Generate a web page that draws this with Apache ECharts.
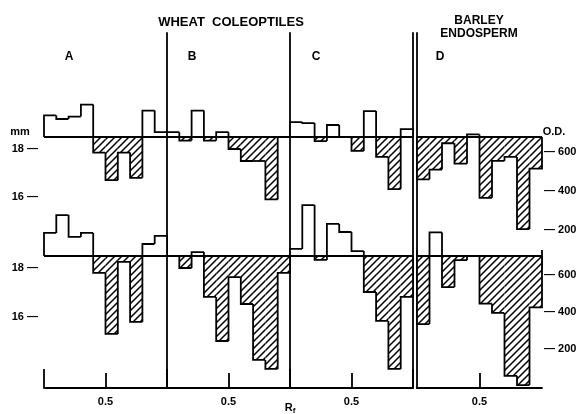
<!DOCTYPE html>
<html>
<head>
<meta charset="utf-8">
<script src="https://cdn.jsdelivr.net/npm/echarts@6/dist/echarts.min.js"></script>
<style>html,body{margin:0;padding:0;background:#fff}#c{width:586px;height:414px}</style>
</head>
<body>
<div id="c"></div>
<script>
// ---- data ----
const rfBinStart = [0, 0.1, 0.2, 0.3, 0.4, 0.5, 0.6, 0.7, 0.8, 0.9];
const rfBinWidth = 0.1;
const panelNames = ['A', 'B', 'C', 'D'];
// wheat coleoptile section length, mm (upper row)
const aTop = [19.4, 19.25, 19.35, 19.85, 17.85, 16.7, 17.85, 16.8, 19.6, 18.7];
const bTop = [18.7, 18.35, 19.6, 18.35, 18.7, 18.0, 17.5, 17.5, 15.9, 18.5];
const cTop = [19.12, 19.08, 18.33, 19.0, 18.5, 17.92, 19.58, 17.67, 16.33, 18.83];
// barley endosperm, O.D. (upper row)
const dTop = [460, 510, 645, 540, 690, 365, 555, 575, 205, 515];
// lower row
const aBot = [19.44, 20.17, 19.28, 19.44, 17.81, 15.32, 18.26, 15.81, 18.99, 19.32];
const bBot = [18.5, 18.01, 18.66, 16.83, 15.03, 17.64, 16.54, 14.26, 13.89, 17.81];
const cBot = [18.79, 20.58, 18.34, 19.81, 19.48, 18.7, 17.03, 15.85, 13.89, 16.83];
const dBot = [335, 830, 535, 680, 703, 445, 395, 55, 5, 425];
const mmBaseline = 18.5;
const odBaselineTop = 677;
const odBaselineBot = 703;
const mmTicks = [18, 16];
const odTicks = [600, 400, 200];
const xTickLabel = [0.5];

// ---- layout ----
const colLeft = [44, 167, 290, 417];
const colRight = [167, 290, 413, 542];
const gridTop = 33, gridBottomY = 388;
// axis calibration: [value, pixel y] pairs
const calTopMM = [[18, 149], [16, 197]];
const calBotMM = [[18.5, 256], [16.5, 305]];
const calTopOD = [[600, 152], [200, 230]];
const calBotOD = [[600, 275], [200, 349]];
function range(cal) {
  const [[v1, y1], [v2, y2]] = cal;
  const k = (y2 - y1) / (v2 - v1);
  return { min: v1 + (gridBottomY - y1) / k, max: v1 + (gridTop - y1) / k };
}

const FONT = "'Liberation Sans', Arial, sans-serif";

// hatch pattern
const pc = document.createElement('canvas');
pc.width = 7; pc.height = 7;
const px = pc.getContext('2d');
px.fillStyle = '#fff'; px.fillRect(0, 0, 7, 7);
px.strokeStyle = '#000'; px.lineWidth = 1.5; px.lineCap = 'square';
px.beginPath();
px.moveTo(0, 7); px.lineTo(7, 0);
px.moveTo(-1, 1); px.lineTo(1, -1);
px.moveTo(6, 8); px.lineTo(8, 6);
px.stroke();
const hatch = { image: pc, repeat: 'repeat' };

function makeRender(base) {
  return function (params, api) {
    const x0 = api.value(0), x1 = api.value(1), v = api.value(2), p = api.value(3), last = api.value(4);
    const a = api.coord([x0, base]);
    const b = api.coord([x1, v]);
    const pp = api.coord([x0, p]);
    const ch = [];
    if (v !== base) {
      ch.push({
        type: 'rect',
        shape: { x: a[0], y: Math.min(a[1], b[1]), width: b[0] - a[0], height: Math.abs(b[1] - a[1]) },
        style: { fill: v < base ? hatch : '#fff' }
      });
    }
    const pts = [[a[0], pp[1]], [a[0], b[1]], [b[0], b[1]]];
    if (last) pts.push([b[0], a[1]]);
    ch.push({ type: 'polyline', shape: { points: pts }, style: { stroke: '#000', lineWidth: 1.8, fill: null, lineJoin: 'miter' } });
    return { type: 'group', children: ch };
  };
}

function binData(vals, base) {
  return vals.map((v, i) => [rfBinStart[i], rfBinStart[i] + rfBinWidth, v, i === 0 ? base : vals[i - 1], i === vals.length - 1 ? 1 : 0]);
}

const grids = [], xAxes = [], yAxes = [], series = [];
const rows = [
  { vals: [aTop, bTop, cTop, dTop], calMM: calTopMM, calOD: calTopOD, odBase: odBaselineTop },
  { vals: [aBot, bBot, cBot, dBot], calMM: calBotMM, calOD: calBotOD, odBase: odBaselineBot }
];
const labelStyle = { color: '#000', fontFamily: FONT, fontWeight: 'bold', fontSize: 11 };

for (let c = 0; c < 4; c++) {
  grids.push({ left: colLeft[c], width: colRight[c] - colLeft[c], top: gridTop, height: gridBottomY - gridTop, containLabel: false, outerBoundsMode: 'none' });
  const xi = xAxes.length;
  xAxes.push({
    gridIndex: c, type: 'value', min: 0, max: 1, position: 'bottom',
    axisLine: { show: true, lineStyle: { color: '#000', width: 1.8 } },
    axisTick: { show: true, inside: true, length: 15, customValues: xTickLabel, lineStyle: { color: '#000', width: 1.8 } },
    axisLabel: Object.assign({ show: true, customValues: xTickLabel, margin: 8, formatter: v => v.toFixed(1) }, labelStyle),
    splitLine: { show: false }
  });
  xAxes.push({
    gridIndex: c, type: 'value', min: 0, max: 1, position: 'bottom',
    axisLine: { show: false },
    axisTick: { show: true, inside: true, length: 19, customValues: [0, 1], lineStyle: { color: '#000', width: 1.8 } },
    axisLabel: { show: false }, splitLine: { show: false }
  });
  // divider axis
  yAxes.push({
    gridIndex: c, type: 'value', min: 0, max: 1, position: 'left',
    axisLine: { show: c > 0, onZero: false, lineStyle: { color: '#000', width: 1.8 } },
    axisTick: { show: false }, axisLabel: { show: false }, splitLine: { show: false }
  });
  if (c === 2) {
    yAxes.push({
      gridIndex: c, type: 'value', min: 0, max: 1, position: 'right',
      axisLine: { show: true, onZero: false, lineStyle: { color: '#000', width: 1.8 } },
      axisTick: { show: false }, axisLabel: { show: false }, splitLine: { show: false }
    });
  }
  rows.forEach((row) => {
    const isOD = c === 3;
    const r = range(isOD ? row.calOD : row.calMM);
    const base = isOD ? row.odBase : mmBaseline;
    const yi = yAxes.length;
    const ax = {
      gridIndex: c, type: 'value', min: r.min, max: r.max,
      position: isOD ? 'right' : 'left',
      axisLine: { show: false }, axisTick: { show: false }, splitLine: { show: false },
      axisLabel: { show: false }
    };
    if (c === 0) {
      ax.axisLabel = Object.assign({ show: true, customValues: mmTicks, margin: 6, formatter: v => v + ' \u2014' }, labelStyle);
    }
    if (isOD) {
      ax.axisLabel = Object.assign({ show: true, customValues: odTicks, margin: 2, formatter: v => '\u2014 ' + v }, labelStyle);
    }
    yAxes.push(ax);
    series.push({
      type: 'custom', xAxisIndex: xi, yAxisIndex: yi,
      renderItem: makeRender(base),
      data: binData(row.vals[c], base),
      encode: { x: [0, 1], y: [2, 3] },
      silent: true, animation: false,
      markLine: {
        silent: true, symbol: 'none', animation: false,
        label: { show: false },
        lineStyle: { color: '#000', width: 1.8, type: 'solid' },
        data: [{ yAxis: base }]
      }
    });
  });
}

const txt = (x, y, text, size, align) => ({
  type: 'text', x: x, y: y,
  style: { text: text, fill: '#000', font: 'bold ' + size + 'px ' + FONT, align: align || 'center', verticalAlign: 'middle' }
});
const graphic = [
  txt(231, 22, 'WHEAT  COLEOPTILES', 13),
  txt(479, 21, 'BARLEY', 12),
  txt(479, 34, 'ENDOSPERM', 12),
  txt(20, 132, 'mm', 11),
  txt(554, 132, 'O.D.', 11)
];
panelNames.forEach((n, i) => graphic.push(txt([69, 192, 316, 440][i], 57, n, 12)));
graphic.push({
  type: 'text', x: 290, y: 408,
  style: {
    text: '{r|R}{f|f}', align: 'center', verticalAlign: 'middle',
    rich: { r: { fontFamily: FONT, fontWeight: 'bold', fontSize: 11, fill: '#000' },
            f: { fontFamily: FONT, fontWeight: 'bold', fontSize: 8, fill: '#000', padding: [5, 0, 0, 0] } }
  }
});

const chart = echarts.init(document.getElementById('c'), null, { renderer: 'canvas' });
chart.setOption({
  animation: false,
  backgroundColor: '#fff',
  grid: grids, xAxis: xAxes, yAxis: yAxes, series: series,
  graphic: graphic
});
</script>
</body>
</html>
